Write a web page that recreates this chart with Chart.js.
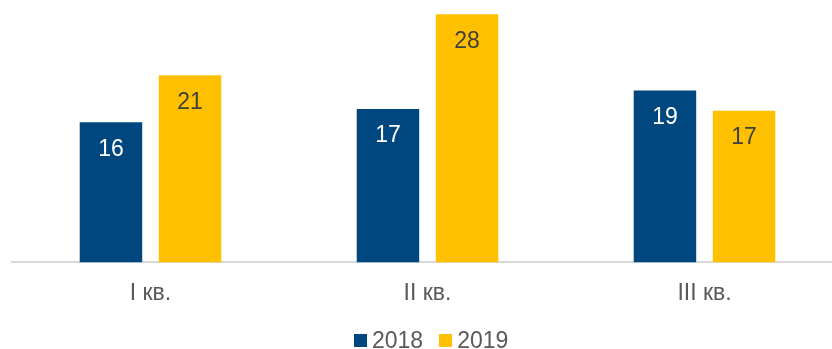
<!DOCTYPE html>
<html>
<head>
<meta charset="utf-8">
<script src="https://cdn.jsdelivr.net/npm/chart.js@4/dist/chart.umd.min.js"></script>
<style>
    html, body { margin: 0; padding: 0; background: #fff; overflow: hidden; }
    #wrap { position: relative; width: 832px; height: 349px; overflow: hidden; }
    #legend {
        position: absolute; left: 354px; top: 327px; height: 26px;
        display: flex; align-items: center;
        font-family: "Liberation Sans", Arial, sans-serif; font-size: 23px; color: #595959;
    }
    #legend .item { display: flex; align-items: center; margin-right: 16px; }
    #legend .box { width: 13px; height: 13px; margin-right: 5px; }
</style>
</head>
<body>
<div id="wrap">
    <canvas id="chart" width="843" height="349"></canvas>
    <div id="legend"></div>
</div>
<script>
// Data
const categories = ["I кв.", "II кв.", "III кв."];
const seriesNames = ["2018", "2019"];
const values2018 = [15.8, 17.3, 19.4];
const values2019 = [21.1, 28, 17.1];
const colors = ["#004780", "#FFC000"];
const labelColors = ["#FFFFFF", "#404040"];

const FONT = "'Liberation Sans', Arial, sans-serif";

// value labels drawn inside the top of each bar
const barLabels = {
    id: "barLabels",
    afterDatasetsDraw(chart) {
        const ctx = chart.ctx;
        ctx.save();
        ctx.font = "23px " + FONT;
        ctx.textAlign = "center";
        ctx.textBaseline = "middle";
        chart.data.datasets.forEach((ds, i) => {
            const meta = chart.getDatasetMeta(i);
            meta.data.forEach((bar, j) => {
                ctx.fillStyle = labelColors[i];
                ctx.fillText(Math.round(ds.data[j]), bar.x, bar.y + 27);
            });
        });
        ctx.restore();
    }
};

new Chart(document.getElementById("chart").getContext("2d"), {
    type: "bar",
    data: {
        labels: categories,
        datasets: [
            { label: seriesNames[0], data: values2018, backgroundColor: colors[0] },
            { label: seriesNames[1], data: values2019, backgroundColor: colors[1] },
        ],
    },
    options: {
        responsive: false,
        animation: false,
        categoryPercentage: 0.571,
        barPercentage: 0.79,
        layout: { padding: { left: 12, right: 0, top: 0, bottom: 25 } },
        plugins: {
            legend: { display: false },
            tooltip: { enabled: false },
        },
        scales: {
            x: {
                grid: { display: false, drawTicks: false },
                border: { display: true, color: "#D9D9D9", width: 2 },
                ticks: { color: "#595959", font: { family: FONT, size: 23 }, padding: 17 },
            },
            y: {
                display: false,
                min: 0,
                max: 29.6,
            },
        },
    },
    plugins: [barLabels],
});

// legend built from the same series
const legend = document.getElementById("legend");
seriesNames.forEach((name, i) => {
    const item = document.createElement("div");
    item.className = "item";
    item.innerHTML = `<span class="box" style="background:${colors[i]}"></span><span>${name}</span>`;
    legend.appendChild(item);
});
</script>
</body>
</html>
